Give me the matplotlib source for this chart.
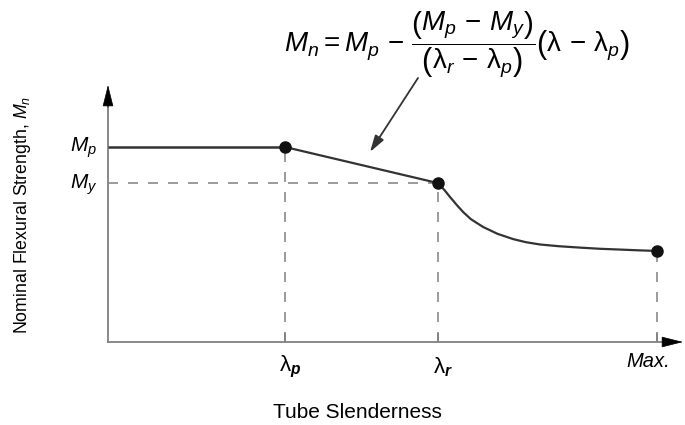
import numpy as np
import matplotlib
matplotlib.use("Agg")
import matplotlib.pyplot as plt

plt.rcParams['font.family'] = ['Liberation Sans', 'DejaVu Sans']
plt.rcParams['mathtext.fontset'] = 'custom'
plt.rcParams['mathtext.rm'] = 'Liberation Sans'
plt.rcParams['mathtext.it'] = 'Liberation Sans:italic'
plt.rcParams['mathtext.bf'] = 'Liberation Sans:bold:italic'

# ── data (normalised slenderness / strength) ───────────────────────────────
lam_p, lam_r, lam_max = 1.0, 1.864, 3.102
M_p, M_y = 1.0, 0.815

plateau_x = [0.0, lam_p]
plateau_y = [M_p, M_p]
inel_x = [lam_p, lam_r]
inel_y = [M_p, M_y]
elastic_x = [1.864, 1.900, 1.932, 1.970, 2.006, 2.050, 2.119, 2.200,
             2.288, 2.360, 2.441, 2.550, 2.667, 2.780, 2.893, 3.000, 3.102]
elastic_y = [0.815, 0.780, 0.744, 0.703, 0.667, 0.630, 0.590, 0.555,
             0.528, 0.512, 0.500, 0.491, 0.484, 0.478, 0.474, 0.470, 0.467]

pts_x = [lam_p, lam_r, lam_max]
pts_y = [M_p, M_y, elastic_y[-1]]

xlabels = [r'$\mathrm{\lambda}_{\mathbf{p}}$', r'$\mathrm{\lambda}_{\mathbf{r}}$', 'Max.']

fig = plt.figure(figsize=(6.85, 4.25), dpi=100)
ax = fig.add_axes([108/685, 83/425, 575/685, 257/425])
xmax, ymax = 575/177, 257/195
ax.set_xlim(0, xmax)
ax.set_ylim(0, ymax)
ax.axis('off')

axc = '#808080'
# axes lines + black arrow heads
ax.plot([0, xmax - 0.08], [0, 0], color=axc, lw=1.3, clip_on=False)
ax.plot([0, 0], [0, ymax - 0.1], color=axc, lw=1.3, clip_on=False)
head = dict(arrowstyle='-|>,head_length=1.4,head_width=0.35', color='black',
            lw=0.5, shrinkA=0, shrinkB=0)
ax.annotate('', xy=(xmax, 0), xytext=(xmax - 0.095, 0), arrowprops=head,
            annotation_clip=False)
ax.annotate('', xy=(0, ymax), xytext=(0, ymax - 0.115), arrowprops=head,
            annotation_clip=False)

dash = dict(color='#8a8a8a', lw=1.2, dashes=(6, 6))
ax.plot([0, lam_r], [M_y, M_y], **dash)
for xv, yv in zip(pts_x, pts_y):
    ax.plot([xv, xv], [0, yv], **dash)
    ax.plot([xv, xv], [0, 0.04], color=axc, lw=1.2)

ax.plot(plateau_x, plateau_y, color='#333333', lw=1.8, solid_capstyle='butt')
ax.plot(inel_x, inel_y, color='#333333', lw=1.6)
ax.plot(elastic_x, elastic_y, color='#333333', lw=1.6)
ax.plot(pts_x, pts_y, 'o', color='#111111', ms=8, zorder=5)

# labels
ax.text(-0.06, M_p - 0.005, r'$M_p$', ha='right', va='center', fontsize=15)
ax.text(-0.06, M_y - 0.01, r'$M_y$', ha='right', va='center', fontsize=15)
for xv, lab in zip(pts_x, xlabels):
    if lab == 'Max.':
        ax.text(xv - 0.05, -0.1, lab, ha='center', va='center', fontsize=14.5,
                style='italic')
    else:
        ax.text(xv + 0.03, -0.13, lab, ha='center', va='center', fontsize=16)

fig.text(357/685, 1 - 413/425, 'Tube Slenderness', ha='center', va='center',
         fontsize=15)
fig.text(23/685, 1 - 215/425, r'Nominal Flexural Strength, $M_n$',
         ha='center', va='center', rotation=90, fontsize=12.8)

fig.text(457/685, 1 - 45/425,
         r'$M_n = M_p\,-\,\dfrac{\left(M_p\,-\,M_y\right)}'
         r'{\left(\mathrm{\lambda}_r\,-\,\mathrm{\lambda}_p\right)}'
         r'\left(\mathrm{\lambda}\,-\,\mathrm{\lambda}_p\right)$',
         ha='center', va='center', fontsize=20)

# pointer arrow
ax.annotate('', xy=((370-108)/177, (342-152)/195),
            xytext=((418-108)/177, (342-78)/195),
            arrowprops=dict(arrowstyle='-|>,head_length=1.0,head_width=0.3',
                            color='#333333', lw=1.3, shrinkA=0, shrinkB=0),
            annotation_clip=False)

fig.savefig('out.png', dpi=100)
